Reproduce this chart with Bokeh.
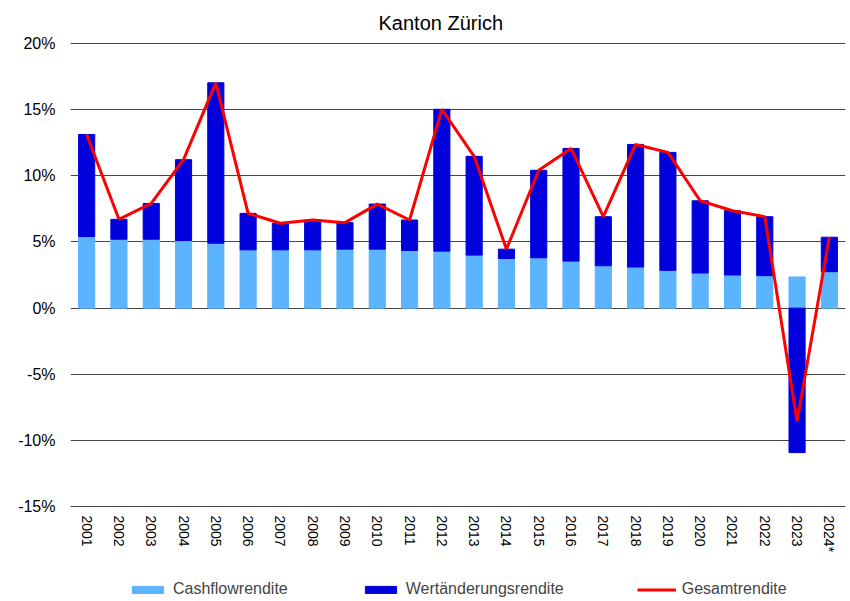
from bokeh.plotting import figure
from bokeh.layouts import column
from bokeh.models import FactorRange, Range1d, FixedTicker, PrintfTickFormatter, Legend, LegendItem, ColumnDataSource
from bokeh.embed import file_html
from bokeh.resources import INLINE

years = ["2001", "2002", "2003", "2004", "2005", "2006", "2007", "2008", "2009", "2010",
         "2011", "2012", "2013", "2014", "2015", "2016", "2017", "2018", "2019", "2020",
         "2021", "2022", "2023", "2024*"]
cashflow = [5.4, 5.2, 5.2, 5.1, 4.9, 4.4, 4.4, 4.4, 4.45, 4.45, 4.35, 4.3, 4.0, 3.75,
            3.8, 3.55, 3.2, 3.1, 2.85, 2.65, 2.5, 2.45, 2.35, 2.75]
wertaenderung = [7.7, 1.5, 2.7, 6.1, 12.1, 2.75, 2.0, 2.25, 2.0, 3.4, 2.3, 10.7, 7.45, 0.7,
                 6.6, 8.5, 3.7, 9.25, 8.9, 5.45, 4.85, 4.45, -10.9, 2.6]
gesamt = [13.1, 6.7, 7.9, 11.2, 17.0, 7.15, 6.4, 6.65, 6.45, 7.85, 6.65, 15.0, 11.45, 4.45,
          10.4, 12.05, 6.9, 12.35, 11.75, 8.1, 7.35, 6.9, -8.55, 5.35]
y_ticks = [-15, -10, -5, 0, 5, 10, 15, 20]
series_names = ["Cashflowrendite", "Wertänderungsrendite", "Gesamtrendite"]

FONT = "Liberation Sans"
C_CASH, C_WERT, C_TOTAL = "#5CB4FF", "#0000DC", "#FF0000"

w_bottom = [c if w >= 0 else 0 for c, w in zip(cashflow, wertaenderung)]
w_top = [c + w if w >= 0 else w for c, w in zip(cashflow, wertaenderung)]

src = ColumnDataSource(dict(x=years, cash=cashflow, wb=w_bottom, wt=w_top, total=gesamt))

p = figure(width=850, height=566, x_range=FactorRange(factors=years),
           y_range=Range1d(-15.04, 20.04), output_backend="svg", toolbar_location=None,
           min_border_left=70, min_border_right=5, min_border_top=42, min_border_bottom=59)

p.title.text = "Kanton Zürich"
p.title.align = "left"
p.title.offset = 308
p.title.text_font = FONT
p.title.text_font_size = "20px"
p.title.text_font_style = "normal"
p.title.text_color = "#000000"
p.title.standoff = 17

p.outline_line_color = None
p.background_fill_color = "white"

p.vbar(x="x", top="cash", bottom=0, width=0.5, source=src, fill_color=C_CASH, line_color=C_CASH)
p.vbar(x="x", top="wt", bottom="wb", width=0.5, source=src, fill_color=C_WERT, line_color=C_WERT)
p.line(x="x", y="total", source=src, line_color=C_TOTAL, line_width=3)

p.xgrid.grid_line_color = None
p.ygrid.grid_line_color = "#454545"
p.ygrid.grid_line_width = 1

p.yaxis.ticker = FixedTicker(ticks=y_ticks)
p.yaxis.formatter = PrintfTickFormatter(format="%d%%")
for ax in (p.xaxis, p.yaxis):
    ax.axis_line_color = None
    ax.major_tick_line_color = None
    ax.minor_tick_line_color = None
    ax.major_tick_in = 0
    ax.major_tick_out = 0
    ax.major_label_text_font = FONT
    ax.major_label_text_color = "#000000"
p.yaxis.major_label_text_font_size = "16px"
p.yaxis.major_label_standoff = 15
p.xaxis.major_label_text_font_size = "14px"
p.xaxis.major_label_orientation = "vertical"
p.xaxis.major_label_standoff = 8

# legend strip (its frame is aligned with the chart's frame by the column layout)
lg = figure(width=850, height=35, x_range=Range1d(0, 1), y_range=Range1d(0, 1),
            x_axis_type=None, y_axis_type=None, output_backend="svg", toolbar_location=None,
            min_border_left=0, min_border_right=0, min_border_top=0, min_border_bottom=0)
lg.outline_line_color = None
lg.xgrid.visible = False
lg.ygrid.visible = False
offscreen = ColumnDataSource(dict(x=[-10], y=[-10]))
l1 = lg.vbar(x="x", top="y", width=0.5, source=offscreen, fill_color=C_CASH, line_color=C_CASH)
l2 = lg.vbar(x="x", top="y", width=0.5, source=offscreen, fill_color=C_WERT, line_color=C_WERT)
l3 = lg.line(x="x", y="y", source=offscreen, line_color=C_TOTAL, line_width=3)

legend = Legend(items=[LegendItem(label=series_names[0], renderers=[l1]),
                       LegendItem(label=series_names[1], renderers=[l2]),
                       LegendItem(label=series_names[2], renderers=[l3])],
                orientation="horizontal", location=(58, 3),
                glyph_width=39, glyph_height=9, label_standoff=6, spacing=73,
                padding=0, margin=0, border_line_color=None, background_fill_alpha=0,
                label_text_font=FONT, label_text_font_size="16px", label_height=18)
lg.add_layout(legend, "center")

open("out.html", "w").write(file_html(column(p, lg, spacing=0), INLINE))
